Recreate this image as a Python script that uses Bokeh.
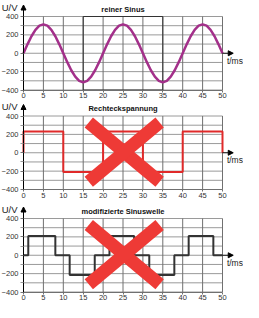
from bokeh.plotting import figure
from bokeh.layouts import column
from bokeh.models import FixedTicker, Arrow, NormalHead
from bokeh.core.properties import value
from bokeh.embed import file_html
from bokeh.resources import INLINE

# ---- data ----
x_ticks = [0, 5, 10, 15, 20, 25, 30, 35, 40, 45, 50]
y_ticks = [-400, -200, 0, 200, 400]
y_minor = [-300, -100, 100, 300]
y_grid = [-400, -300, -200, -100, 0, 100, 200, 300, 400]

titles = ["reiner Sinus", "Rechteckspannung", "modifizierte Sinuswelle"]

t_sine = list(range(51))
u_sine = [0, 97, 185, 255, 300, 315, 300, 255, 185, 97,
          0, -97, -185, -255, -300, -318, -300, -255, -185, -97,
          0, 97, 185, 255, 300, 315, 300, 255, 185, 97,
          0, -97, -185, -255, -300, -318, -300, -255, -185, -97,
          0, 97, 185, 255, 300, 315, 300, 255, 185, 97, 0]

t_rect = [0, 0, 10, 20, 30, 40, 50]
u_rect = [0, 230, -210, 230, -210, 230, 0]

t_mod = [0, 1.2, 8.0, 11.6, 17.9, 21.6, 27.8, 31.6, 37.9, 41.5, 47.7, 50]
u_mod = [0, 210, 0, -215, 0, 210, 0, -215, 0, 210, 0, 0]

# highlighted window in the first chart
box_t = [15, 35]
box_u = [-400, 400]

# red cross over charts 2 and 3
cross_t0 = [16.4, 34.2]
cross_u0 = [330, 330]
cross_t1 = [34.2, 16.4]
cross_u1 = [-315, -315]

FONT = "Liberation Sans"
W = 243
PX_PER_MS = 3.98
X0_PX = 23
X_START = -X0_PX / PX_PER_MS
X_END = X_START + W / PX_PER_MS
S = 73.5 / 800.0  # px per volt


def make_chart(title, H, p400):
    y_end = 400 + p400 / S
    y_start = y_end - H / S
    p = figure(width=W, height=H, x_range=(X_START, X_END), y_range=(y_start, y_end),
               output_backend="svg", toolbar_location=None, min_border=0,
               outline_line_color=None)
    p.xgrid.visible = False
    p.ygrid.visible = False

    # grid lines
    n = len(y_grid)
    p.segment(x0=[x_ticks[0]] * n, y0=y_grid, x1=[x_ticks[-1]] * n, y1=y_grid,
              line_color="#9a9a9a", line_width=1)
    m = len(x_ticks)
    p.segment(x0=x_ticks, y0=[y_grid[0]] * m, x1=x_ticks, y1=[y_grid[-1]] * m,
              line_color="#707070", line_width=1)

    ya = p.yaxis[0]
    ya.fixed_location = 0
    ya.bounds = (y_ticks[0], y_ticks[-1])
    ya.ticker = FixedTicker(ticks=y_ticks, minor_ticks=y_minor)
    ya.major_tick_in = 0
    ya.major_tick_out = 3
    ya.minor_tick_in = 0
    ya.minor_tick_out = 3
    ya.axis_line_color = "black"
    ya.major_tick_line_color = "#777777"
    ya.minor_tick_line_color = "#999999"
    ya.major_label_text_font = FONT
    ya.major_label_text_font_size = "7.5px"
    ya.major_label_text_color = "#333333"
    ya.major_label_standoff = 2

    xa = p.xaxis[0]
    xa.fixed_location = y_ticks[0]
    xa.bounds = (x_ticks[0], x_ticks[-1])
    xa.ticker = FixedTicker(ticks=x_ticks, minor_ticks=[])
    xa.axis_line_color = "#707070"
    xa.major_tick_in = 0
    xa.major_tick_out = 2
    xa.major_tick_line_color = "#707070"
    xa.major_label_text_font = FONT
    xa.major_label_text_font_size = "7.5px"
    xa.major_label_text_color = "#333333"
    xa.major_label_standoff = 1

    # axis arrows
    tip = 400 + 11.5 / S
    p.add_layout(Arrow(end=NormalHead(size=5, fill_color="black", line_color="black", line_width=1),
                       x_start=0, y_start=400, x_end=0, y_end=tip,
                       line_color="black", line_width=1))
    p.add_layout(Arrow(end=NormalHead(size=5, fill_color="black", line_color="black", line_width=1),
                       x_start=50, y_start=0, x_end=52.7, y_end=0,
                       line_color="black", line_width=1))

    p.text(x=[-1.5], y=[400 + 9.5 / S], text=["U/V"], text_font=value(FONT),
           text_font_size="9.5px", text_align="right", text_baseline="middle",
           text_color="#222222")
    p.text(x=[51.1], y=[-7.5 / S], text=["t/ms"], text_font=value(FONT),
           text_font_size="8.5px", text_align="left", text_baseline="middle",
           text_color="#222222")
    p.text(x=[25], y=[400 + 7.5 / S], text=[title], text_font=value(FONT),
           text_font_size="7.5px", text_font_style="bold", text_align="center",
           text_baseline="middle", text_color="#111111")
    return p


p1 = make_chart(titles[0], 101, 16)
p1.quad(left=[box_t[0]], right=[box_t[1]], bottom=[box_u[0]], top=[box_u[1]],
        fill_alpha=0, line_color="#333333", line_width=1)
p1.line(t_sine, u_sine, line_color="#a3308a", line_width=2.5, line_join="round")

p2 = make_chart(titles[1], 101, 14.5)
p2.step(t_rect, u_rect, mode="after", line_color="#e02a2a", line_width=2)
p2.segment(x0=cross_t0, y0=cross_u0, x1=cross_t1, y1=cross_u1,
           line_color="#ee3a36", line_width=13, line_cap="butt")

p3 = make_chart(titles[2], 100, 16)
p3.step(t_mod, u_mod, mode="after", line_color="#333333", line_width=2)
p3.segment(x0=cross_t0, y0=cross_u0, x1=cross_t1, y1=cross_u1,
           line_color="#ee3a36", line_width=13, line_cap="butt")

layout = column(p1, p2, p3, spacing=0)
open("out.html", "w").write(file_html(layout, INLINE))
